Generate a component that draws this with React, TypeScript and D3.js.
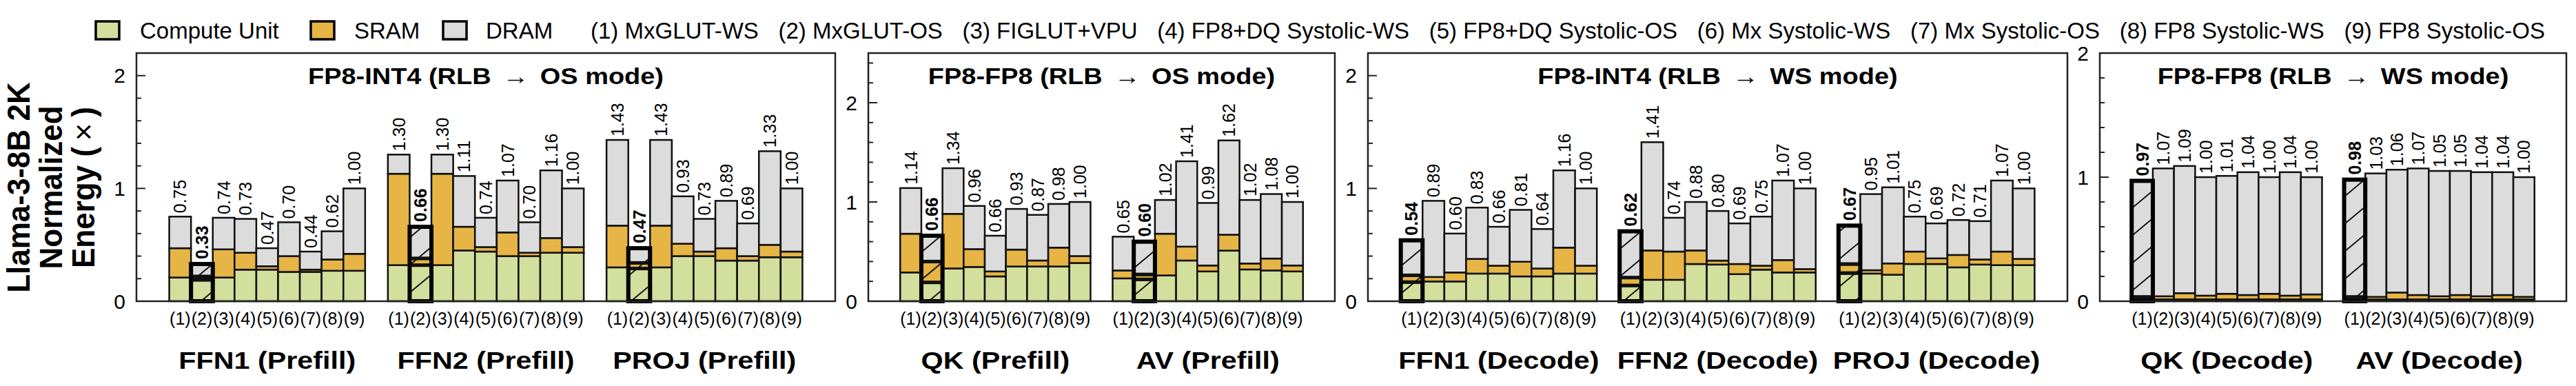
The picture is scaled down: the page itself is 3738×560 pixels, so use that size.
import React, { useEffect, useRef } from 'react';
import * as d3 from 'd3';

const WIDTH = 3738;
const HEIGHT = 560;
const PLOT_TOP = 77;
const PLOT_BOTTOM = 437;
const FONT = '"Liberation Sans", Arial, Helvetica, sans-serif';

const methodTicks = ['(1)', '(2)', '(3)', '(4)', '(5)', '(6)', '(7)', '(8)', '(9)'];
const methodNames = [
  '(1) MxGLUT-WS', '(2) MxGLUT-OS', '(3) FIGLUT+VPU', '(4) FP8+DQ Systolic-WS', '(5) FP8+DQ Systolic-OS',
  '(6) Mx Systolic-WS', '(7) Mx Systolic-OS', '(8) FP8 Systolic-WS', '(9) FP8 Systolic-OS',
];
const components = ['Compute Unit', 'SRAM', 'DRAM'];
const componentColors = ['#d3df9c', '#e6b545', '#dcdcdc'];

// FP8-INT4, OS mode (prefill)
const ffn1PrefillTotal = [0.75, 0.33, 0.74, 0.73, 0.47, 0.70, 0.44, 0.62, 1.00];
const ffn1PrefillCompute = [0.21, 0.19, 0.21, 0.28, 0.28, 0.26, 0.26, 0.27, 0.27];
const ffn1PrefillSram = [0.26, 0.03, 0.25, 0.15, 0.03, 0.14, 0.02, 0.10, 0.15];

const ffn2PrefillTotal = [1.30, 0.66, 1.30, 1.11, 0.74, 1.07, 0.70, 1.16, 1.00];
const ffn2PrefillCompute = [0.32, 0.32, 0.32, 0.45, 0.44, 0.40, 0.40, 0.43, 0.43];
const ffn2PrefillSram = [0.81, 0.06, 0.81, 0.21, 0.04, 0.21, 0.03, 0.13, 0.05];

const projPrefillTotal = [1.43, 0.47, 1.43, 0.93, 0.73, 0.89, 0.69, 1.33, 1.00];
const projPrefillCompute = [0.30, 0.29, 0.30, 0.40, 0.40, 0.36, 0.36, 0.39, 0.39];
const projPrefillSram = [0.37, 0.05, 0.37, 0.11, 0.04, 0.11, 0.04, 0.11, 0.05];

// FP8-FP8, OS mode (prefill)
const qkPrefillTotal = [1.14, 0.66, 1.34, 0.96, 0.66, 0.93, 0.87, 0.98, 1.00];
const qkPrefillCompute = [0.29, 0.19, 0.33, 0.345, 0.25, 0.35, 0.35, 0.35, 0.385];
const qkPrefillSram = [0.39, 0.21, 0.55, 0.18, 0.05, 0.17, 0.06, 0.19, 0.07];

const avPrefillTotal = [0.65, 0.60, 1.02, 1.41, 0.99, 1.62, 1.02, 1.08, 1.00];
const avPrefillCompute = [0.23, 0.22, 0.26, 0.41, 0.30, 0.51, 0.32, 0.31, 0.30];
const avPrefillSram = [0.08, 0.05, 0.42, 0.14, 0.06, 0.16, 0.06, 0.12, 0.06];

// FP8-INT4, WS mode (decode)
const ffn1DecodeTotal = [0.54, 0.89, 0.60, 0.83, 0.66, 0.81, 0.64, 1.16, 1.00];
const ffn1DecodeCompute = [0.17, 0.175, 0.175, 0.245, 0.245, 0.22, 0.22, 0.245, 0.245];
const ffn1DecodeSram = [0.06, 0.04, 0.08, 0.13, 0.07, 0.13, 0.07, 0.23, 0.07];

const ffn2DecodeTotal = [0.62, 1.41, 0.74, 0.88, 0.80, 0.69, 0.75, 1.07, 1.00];
const ffn2DecodeCompute = [0.14, 0.19, 0.19, 0.33, 0.325, 0.24, 0.28, 0.255, 0.255];
const ffn2DecodeSram = [0.07, 0.26, 0.25, 0.12, 0.035, 0.09, 0.035, 0.11, 0.03];

const projDecodeTotal = [0.67, 0.95, 1.01, 0.75, 0.69, 0.72, 0.71, 1.07, 1.00];
const projDecodeCompute = [0.25, 0.245, 0.235, 0.33, 0.33, 0.30, 0.325, 0.32, 0.32];
const projDecodeSram = [0.08, 0.03, 0.10, 0.11, 0.05, 0.11, 0.045, 0.12, 0.055];

// FP8-FP8, WS mode (decode)
const qkDecodeTotal = [0.97, 1.07, 1.09, 1.00, 1.01, 1.04, 1.00, 1.04, 1.00];
const qkDecodeCompute = [0.015, 0.015, 0.015, 0.015, 0.015, 0.015, 0.015, 0.015, 0.015];
const qkDecodeSram = [0.02, 0.025, 0.05, 0.03, 0.045, 0.035, 0.045, 0.03, 0.04];

const avDecodeTotal = [0.98, 1.03, 1.06, 1.07, 1.05, 1.05, 1.04, 1.04, 1.00];
const avDecodeCompute = [0.015, 0.015, 0.015, 0.015, 0.015, 0.015, 0.015, 0.015, 0.015];
const avDecodeSram = [0.02, 0.02, 0.055, 0.035, 0.025, 0.035, 0.025, 0.035, 0.02];

const panels = [
  {
    title: 'FP8-INT4 (RLB → OS mode)', yMax: 2.2, highlight: 1, x0: 198, x1: 1212,
    groups: [
      { name: 'FFN1 (Prefill)', total: ffn1PrefillTotal, compute: ffn1PrefillCompute, sram: ffn1PrefillSram },
      { name: 'FFN2 (Prefill)', total: ffn2PrefillTotal, compute: ffn2PrefillCompute, sram: ffn2PrefillSram },
      { name: 'PROJ (Prefill)', total: projPrefillTotal, compute: projPrefillCompute, sram: projPrefillSram },
    ],
  },
  {
    title: 'FP8-FP8 (RLB → OS mode)', yMax: 2.5, highlight: 1, x0: 1260, x1: 1937,
    groups: [
      { name: 'QK (Prefill)', total: qkPrefillTotal, compute: qkPrefillCompute, sram: qkPrefillSram },
      { name: 'AV (Prefill)', total: avPrefillTotal, compute: avPrefillCompute, sram: avPrefillSram },
    ],
  },
  {
    title: 'FP8-INT4 (RLB → WS mode)', yMax: 2.2, highlight: 0, x0: 1985, x1: 3000,
    groups: [
      { name: 'FFN1 (Decode)', total: ffn1DecodeTotal, compute: ffn1DecodeCompute, sram: ffn1DecodeSram },
      { name: 'FFN2 (Decode)', total: ffn2DecodeTotal, compute: ffn2DecodeCompute, sram: ffn2DecodeSram },
      { name: 'PROJ (Decode)', total: projDecodeTotal, compute: projDecodeCompute, sram: projDecodeSram },
    ],
  },
  {
    title: 'FP8-FP8 (RLB → WS mode)', yMax: 2.0, highlight: 0, x0: 3047, x1: 3724,
    groups: [
      { name: 'QK (Decode)', total: qkDecodeTotal, compute: qkDecodeCompute, sram: qkDecodeSram },
      { name: 'AV (Decode)', total: avDecodeTotal, compute: avDecodeCompute, sram: avDecodeSram },
    ],
  },
];

export default function App() {
  const svgRef = useRef<SVGSVGElement>(null);

  useEffect(() => {
    if (!svgRef.current) return;
    const svg = d3.select(svgRef.current);
    svg.selectAll('*').remove();

    // sparse "/" hatch for the highlighted bars
    const pat = svg.append('defs').append('pattern')
      .attr('id', 'hatch')
      .attr('patternUnits', 'userSpaceOnUse')
      .attr('width', 48)
      .attr('height', 40);
    pat.append('path')
      .attr('d', 'M-6,45 L54,-5 M-6,5 L6,-5 M42,45 L54,35')
      .attr('stroke', '#111')
      .attr('stroke-width', 2)
      .attr('fill', 'none');

    const root = svg.append('g').style('font-family', FONT);

    // y-axis title, three rotated lines
    const yTitle = [
      { x: 43, parts: [{ t: 'Llama-3-8B 2K', w: 700 }] },
      { x: 90, parts: [{ t: 'Normalized', w: 700 }] },
      { x: 137, parts: [{ t: 'Energy (\u2009', w: 700 }, { t: '×', w: 400 }, { t: '\u2009)', w: 700 }] },
    ];
    yTitle.forEach(line => {
      const t = root.append('text')
        .attr('transform', `translate(${line.x},272) scale(1.05,1) rotate(-90)`)
        .attr('text-anchor', 'middle')
        .style('font-size', '44px')
        .style('fill', '#000');
      line.parts.forEach(p => t.append('tspan').style('font-weight', p.w).text(p.t));
    });

    // legend: components
    const swatchX = [139, 451, 643];
    const labelX = [203, 514, 705];
    components.forEach((c, i) => {
      root.append('rect')
        .attr('x', swatchX[i]).attr('y', 31)
        .attr('width', 34).attr('height', 26)
        .attr('fill', componentColors[i])
        .attr('stroke', '#000').attr('stroke-width', 3.5);
      root.append('text')
        .attr('x', labelX[i]).attr('y', 56)
        .style('font-size', '33px')
        .text(c);
    });

    // legend: methods, spread evenly between 857 and 3693
    const legendTexts = methodNames.map(m => root.append('text')
      .attr('y', 56)
      .style('font-size', '33px')
      .text(m));
    const widths = legendTexts.map(t => (t.node() as SVGTextElement).getComputedTextLength());
    const gap = (3693 - 857 - d3.sum(widths)) / (methodNames.length - 1);
    let lx = 857;
    legendTexts.forEach((t, i) => {
      t.attr('x', lx);
      lx += widths[i] + gap;
    });

    panels.forEach(p => {
      const y = d3.scaleLinear().domain([0, p.yMax]).range([PLOT_BOTTOM, PLOT_TOP]);
      const gx = d3.scaleBand()
        .domain(p.groups.map(g => g.name))
        .range([p.x0, p.x1])
        .paddingInner(0.104)
        .paddingOuter(0.15);
      const bx = d3.scaleBand().domain(methodTicks).range([0, gx.bandwidth()]).padding(0);
      const pg = root.append('g');

      // panel title with a thin arrow
      const [left, right] = p.title.split('→').map(s => s.trim());
      const title = pg.append('text')
        .attr('transform', `translate(${(p.x0 + p.x1) / 2},122) scale(1.15,1)`)
        .attr('text-anchor', 'middle')
        .style('font-size', '33px')
        .style('font-weight', 700);
      title.append('tspan').text(left);
      title.append('tspan').attr('dx', 15).style('font-weight', 400).text('→');
      title.append('tspan').attr('dx', 14).text(right);

      // y ticks (inward), labels at integers
      const ticks = d3.range(0, p.yMax + 1e-6, 0.2).map(v => Math.round(v * 10) / 10);
      ticks.forEach(v => {
        const major = Math.abs(v - Math.round(v)) < 1e-6;
        pg.append('line')
          .attr('x1', p.x0).attr('x2', p.x0 + (major ? 13 : 7))
          .attr('y1', y(v)).attr('y2', y(v))
          .attr('stroke', '#222').attr('stroke-width', 2);
        if (major) {
          pg.append('text')
            .attr('x', p.x0 - 16).attr('y', y(v))
            .attr('text-anchor', 'end')
            .attr('dominant-baseline', 'central')
            .style('font-size', '30px')
            .text(d3.format('d')(v));
        }
      });

      p.groups.forEach(grp => {
        const gStart = gx(grp.name) as number;
        const barW = bx.bandwidth();

        const drawBar = (i: number) => {
          const hl = i === p.highlight;
          const x = gStart + (bx(methodTicks[i]) as number);
          const segs = [grp.compute[i], grp.sram[i], grp.total[i] - grp.compute[i] - grp.sram[i]];
          let acc = 0;
          segs.forEach((v, k) => {
            pg.append('rect')
              .attr('x', x).attr('y', y(acc + v))
              .attr('width', barW).attr('height', y(acc) - y(acc + v))
              .attr('fill', componentColors[k])
              .attr('stroke', '#111')
              .attr('stroke-width', hl ? 5 : 2.5);
            acc += v;
          });
          if (hl) {
            pg.append('rect')
              .attr('x', x).attr('y', y(grp.total[i]))
              .attr('width', barW).attr('height', y(0) - y(grp.total[i]))
              .attr('fill', 'url(#hatch)')
              .attr('stroke', '#000')
              .attr('stroke-width', 6);
          }
          pg.append('text')
            .attr('transform', `translate(${x + barW / 2 + 9},${y(grp.total[i]) - (hl ? 7 : 5)}) rotate(-90)`)
            .style('font-size', '25px')
            .style('font-weight', hl ? 700 : 400)
            .text(grp.total[i].toFixed(2));
        };

        methodTicks.forEach((_, i) => { if (i !== p.highlight) drawBar(i); });
        drawBar(p.highlight);

        methodTicks.forEach(m => {
          pg.append('text')
            .attr('x', gStart + (bx(m) as number) + barW / 2)
            .attr('y', 471)
            .attr('text-anchor', 'middle')
            .style('font-size', '25px')
            .text(m);
        });

        pg.append('text')
          .attr('transform', `translate(${gStart + gx.bandwidth() / 2},535) scale(1.18,1)`)
          .attr('text-anchor', 'middle')
          .style('font-size', '35px')
          .style('font-weight', 700)
          .text(grp.name);
      });

      // frame
      pg.append('rect')
        .attr('x', p.x0).attr('y', PLOT_TOP)
        .attr('width', p.x1 - p.x0).attr('height', PLOT_BOTTOM - PLOT_TOP)
        .attr('fill', 'none')
        .attr('stroke', '#222')
        .attr('stroke-width', 2.5);
    });
  }, []);

  return (
    <svg
      ref={svgRef}
      width={WIDTH}
      height={HEIGHT}
      style={{ position: 'absolute', left: 0, top: 0, background: '#fff' }}
    />
  );
}
